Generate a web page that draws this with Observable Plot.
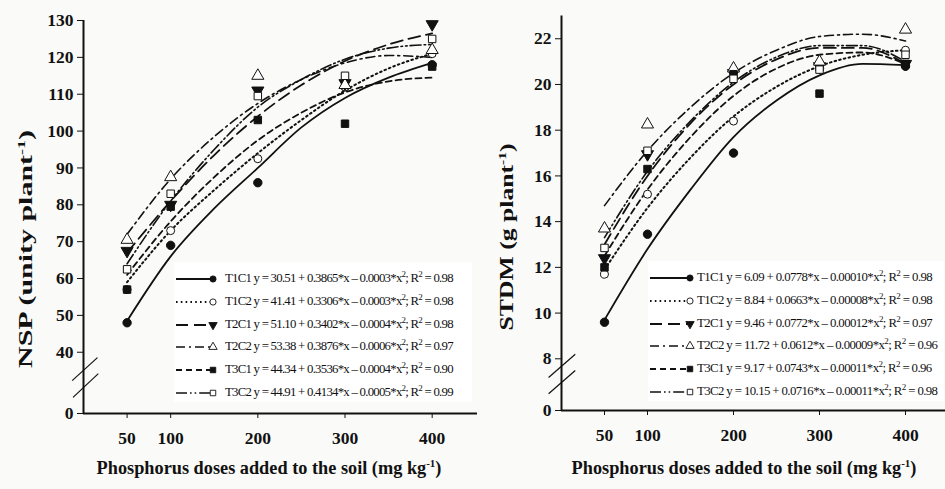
<!DOCTYPE html>
<html>
<head>
<meta charset="utf-8">
<script src="https://cdn.jsdelivr.net/npm/d3@7"></script>
<script src="https://cdn.jsdelivr.net/npm/@observablehq/plot@0.6"></script>
<style>
  body { margin: 0; background: #fafaf8; }
  #wrap { position: relative; width: 945px; height: 489px; overflow: hidden; }
  .panel { position: absolute; top: 0; }
  .title { position: absolute; font-family: "Liberation Serif", serif; font-weight: bold; color: #111; white-space: nowrap; }
  .title sup { font-size: 0.6em; }
  .ytitle { font-size: 18px; }
  .xtitle { font-size: 18.3px; transform: translate(-50%, -50%); }
  .legend { position: absolute; background: #fff; font-family: "Liberation Serif", serif; font-size: 12.8px; color: #111; }
  .legend .row { position: absolute; left: 0; height: 22px; white-space: nowrap; }
  .legend .row svg { position: absolute; left: 0; top: 4px; }
  .legend .row span { position: absolute; top: 3px; letter-spacing: -0.65px; }
  .legend sup { font-size: 9px; line-height: 0; }
</style>
</head>
<body>
<div id="wrap"></div>
<script>
// ---------- data ----------
const doses = [50, 100, 200, 300, 400];
const fitX = [50, 100, 150, 200, 250, 300, 350, 400];
const seriesNames = ["T1C1", "T1C2", "T2C1", "T2C2", "T3C1", "T3C2"];

// NSP observed means
const nspT1C1 = [48, 69, 86, 112, 118];
const nspT1C2 = [57, 73, 92.5, 112, 121];
const nspT2C1 = [67.5, 80, 111, 113, 129];
const nspT2C2 = [70.5, 87.5, 115, 112.5, 122];
const nspT3C1 = [57, 79.5, 103, 102, 117.5];
const nspT3C2 = [62.5, 83, 109.5, 115, 125];
// NSP fitted curves (read at fitX)
const nspFitT1C1 = [48.5, 66, 79, 90, 101, 109, 114.5, 118.5];
const nspFitT1C2 = [59, 73, 84, 94, 103, 111, 117, 121];
const nspFitT2C1 = [67, 81, 93.5, 104, 112.5, 119, 123.5, 126.5];
const nspFitT2C2 = [72, 87, 98.5, 107.5, 114, 118.5, 120.5, 120];
const nspFitT3C1 = [61, 75.5, 87.5, 97.5, 105, 110.5, 113.5, 114.5];
const nspFitT3C2 = [64, 81, 95, 106.5, 114, 119.5, 122.5, 123.5];
const nspEquations = [
  "y = 30.51 + 0.3865*x – 0.0003*x<sup>2</sup>; R<sup>2</sup> = 0.98",
  "y = 41.41 + 0.3306*x – 0.0003*x<sup>2</sup>; R<sup>2</sup> = 0.98",
  "y = 51.10 + 0.3402*x – 0.0004*x<sup>2</sup>; R<sup>2</sup> = 0.98",
  "y = 53.38 + 0.3876*x – 0.0006*x<sup>2</sup>; R<sup>2</sup> = 0.97",
  "y = 44.34 + 0.3536*x – 0.0004*x<sup>2</sup>; R<sup>2</sup> = 0.90",
  "y = 44.91 + 0.4134*x – 0.0005*x<sup>2</sup>; R<sup>2</sup> = 0.99"
];
const nspTicks = [0, 40, 50, 60, 70, 80, 90, 100, 110, 120, 130];

// STDM observed means
const stdmT1C1 = [9.6, 13.45, 17.0, 20.7, 20.8];
const stdmT1C2 = [11.7, 15.2, 18.4, 20.7, 21.5];
const stdmT2C1 = [12.4, 16.95, 20.5, 20.8, 20.9];
const stdmT2C2 = [13.7, 18.25, 20.7, 21.0, 22.4];
const stdmT3C1 = [12.0, 16.3, 20.45, 19.6, 20.9];
const stdmT3C2 = [12.85, 17.1, 20.25, 20.65, 21.3];
// STDM fitted curves (read at fitX)
const stdmFitT1C1 = [9.7, 12.8, 15.4, 17.7, 19.3, 20.4, 20.9, 20.85];
const stdmFitT1C2 = [11.9, 14.6, 16.8, 18.6, 19.9, 20.8, 21.3, 21.5];
const stdmFitT2C1 = [13.0, 16.0, 18.3, 20.0, 21.1, 21.6, 21.6, 20.9];
const stdmFitT2C2 = [14.7, 17.1, 19.0, 20.5, 21.5, 22.1, 22.2, 21.9];
const stdmFitT3C1 = [12.5, 15.4, 17.7, 19.5, 20.7, 21.3, 21.4, 20.9];
const stdmFitT3C2 = [13.3, 16.2, 18.4, 20.1, 21.2, 21.7, 21.7, 21.0];
const stdmEquations = [
  "y = 6.09 + 0.0778*x – 0.00010*x<sup>2</sup>; R<sup>2</sup> = 0.98",
  "y = 8.84 + 0.0663*x – 0.00008*x<sup>2</sup>; R<sup>2</sup> = 0.98",
  "y = 9.46 + 0.0772*x – 0.00012*x<sup>2</sup>; R<sup>2</sup> = 0.97",
  "y = 11.72 + 0.0612*x – 0.00009*x<sup>2</sup>; R<sup>2</sup> = 0.96",
  "y = 9.17 + 0.0743*x – 0.00011*x<sup>2</sup>; R<sup>2</sup> = 0.96",
  "y = 10.15 + 0.0716*x – 0.00011*x<sup>2</sup>; R<sup>2</sup> = 0.98"
];
const stdmTicks = [0, 8, 10, 12, 14, 16, 18, 20, 22];

// ---------- styles ----------
const styles = [
  {dash: null, width: 1.8, symbol: "circle", fill: "#111", rotate: 0, r: 4.2},
  {dash: "1.6,3.2", width: 2, symbol: "circle", fill: "white", rotate: 0, r: 4},
  {dash: "12,6", width: 1.8, symbol: "triangle", fill: "#111", rotate: 180, r: 4.5},
  {dash: "9,4,2,4", width: 1.6, symbol: "triangle", fill: "white", rotate: 0, r: 4.5},
  {dash: "6,4", width: 1.8, symbol: "square", fill: "#111", rotate: 0, r: 4.2},
  {dash: "11,3,1.6,3,1.6,3", width: 1.6, symbol: "square", fill: "white", rotate: 0, r: 4.2}
];

// broken axis: values below the break are compressed into a short segment
function makeBreak(breakAt, lowLen, unit) {
  return v => v <= breakAt ? v * lowLen / breakAt : lowLen + (v - breakAt) * unit;
}

function makePanel(cfg) {
  const t = cfg.tf;
  const yTop = t(cfg.yMax);
  const marks = [
    Plot.ruleX([0], {y1: 0, y2: yTop, stroke: "#111", strokeWidth: 2}),
    Plot.ruleY([0], {x1: 0, x2: cfg.xDomain[1], stroke: "#111", strokeWidth: 2}),
    Plot.link(cfg.breaks.map(b => ({x1: b.x1, x2: b.x2, y1: t(b.y1), y2: t(b.y2)})),
      {x1: "x1", y1: "y1", x2: "x2", y2: "y2", stroke: "#111", strokeWidth: 1.2}),
    Plot.axisY(cfg.ticks.map(t), {tickSize: 6, tickPadding: 4, label: null,
      tickFormat: (d, i) => String(cfg.ticks[i])}),
    Plot.axisX(doses, {tickSize: 5, tickPadding: 13, label: null, tickFormat: d => String(d)})
  ];
  cfg.fits.forEach((f, i) => {
    const s = styles[i];
    marks.push(Plot.line(fitX.map((x, j) => ({x, y: t(f[j])})), {
      x: "x", y: "y", stroke: "#111", strokeWidth: s.width,
      strokeDasharray: s.dash || undefined, curve: "monotone-x"
    }));
  });
  cfg.obs.forEach((o, i) => {
    const s = styles[i];
    marks.push(Plot.dot(doses.map((x, j) => ({x, y: t(o[j])})), {
      x: "x", y: "y", symbol: s.symbol, r: s.r, fill: s.fill,
      stroke: "#111", strokeWidth: 1, rotate: s.rotate
    }));
  });
  return Plot.plot({
    width: cfg.width, height: 489,
    marginLeft: cfg.margin[3], marginRight: cfg.margin[1], marginTop: cfg.margin[0], marginBottom: cfg.margin[2],
    x: {domain: cfg.xDomain},
    y: {domain: [0, yTop]},
    style: {fontFamily: "'Liberation Serif', serif", fontSize: "17.5px", fontWeight: "bold", color: "#111", background: "transparent", overflow: "visible"},
    marks
  });
}

const wrap = document.getElementById("wrap");

const left = makePanel({
  width: 480, margin: [20, 3, 76, 83],
  xDomain: [0, 452],
  tf: makeBreak(40, 61.3, 3.689), yMax: 130,
  ticks: nspTicks,
  fits: [nspFitT1C1, nspFitT1C2, nspFitT2C1, nspFitT2C2, nspFitT3C1, nspFitT3C2],
  obs: [nspT1C1, nspT1C2, nspT2C1, nspT2C2, nspT3C1, nspT3C2],
  breaks: [{x1: -13, y1: 21.5, x2: 16, y2: 36.5}, {x1: -12, y1: 10.5, x2: 17, y2: 26}]
});
left.classList.add("panel");
left.style.left = "0px";
wrap.appendChild(left);

const right = makePanel({
  width: 465, margin: [15.4, 0, 79, 81],
  xDomain: [0, 446.5],
  tf: makeBreak(8, 51.7, 22.86), yMax: 23,
  ticks: stdmTicks,
  fits: [stdmFitT1C1, stdmFitT1C2, stdmFitT2C1, stdmFitT2C2, stdmFitT3C1, stdmFitT3C2],
  obs: [stdmT1C1, stdmT1C2, stdmT2C1, stdmT2C2, stdmT3C1, stdmT3C2],
  breaks: [{x1: -15, y1: 5.1, x2: 16, y2: 8.2}, {x1: -15, y1: 2.6, x2: 16, y2: 6.2}]
});
right.classList.add("panel");
right.style.left = "480px";
wrap.appendChild(right);

// titles
function addTitle(html, x, y, cls, targetLen) {
  const d = document.createElement("div");
  d.className = "title " + cls;
  d.style.left = x + "px";
  d.style.top = y + "px";
  d.innerHTML = html;
  wrap.appendChild(d);
  if (targetLen) {
    const w = d.getBoundingClientRect().width;
    d.style.transform = `translate(-50%, -50%) rotate(-90deg) scaleX(${targetLen / w})`;
  }
}
addTitle("NSP (unity plant<sup>-1</sup>)", 26, 249, "ytitle", 238);
addTitle("STDM (g plant<sup>-1</sup>)", 507, 237, "ytitle", 187);
addTitle("Phosphorus doses added to the soil (mg kg<sup>-1</sup>)", 269, 468, "xtitle");
addTitle("Phosphorus doses added to the soil (mg kg<sup>-1</sup>)", 744, 468, "xtitle");

// legends
function addLegend(left, top, w, h, equations, lineLen, textX, spacing) {
  const box = d3.select(wrap).append("div").attr("class", "legend")
    .style("left", left + "px").style("top", top + "px")
    .style("width", w + "px").style("height", h + "px");
  const symMap = {circle: d3.symbolCircle, square: d3.symbolSquare, triangle: d3.symbolTriangle};
  equations.forEach((eq, i) => {
    const s = styles[i];
    const row = box.append("div").attr("class", "row").style("top", (6 + i * 22.8) + "px");
    const svg = row.append("svg").attr("width", lineLen + 8).attr("height", 14);
    svg.append("line").attr("x1", 2).attr("x2", lineLen).attr("y1", 7).attr("y2", 7)
      .attr("stroke", "#111").attr("stroke-width", s.width)
      .attr("stroke-dasharray", s.dash || null);
    svg.append("path")
      .attr("d", d3.symbol(symMap[s.symbol], Math.PI * 3.1 * 3.1)())
      .attr("transform", `translate(${lineLen},7) rotate(${s.rotate})`)
      .attr("fill", s.fill).attr("stroke", "#111").attr("stroke-width", 0.9);
    row.append("span").style("left", textX + "px").style("letter-spacing", spacing + "px")
      .html(seriesNames[i] + " " + eq);
  });
}
addLegend(174, 262, 298, 140, nspEquations, 39, 51, -0.75);
addLegend(648, 261, 296, 140, stdmEquations, 42, 49, -0.6);
</script>
</body>
</html>
